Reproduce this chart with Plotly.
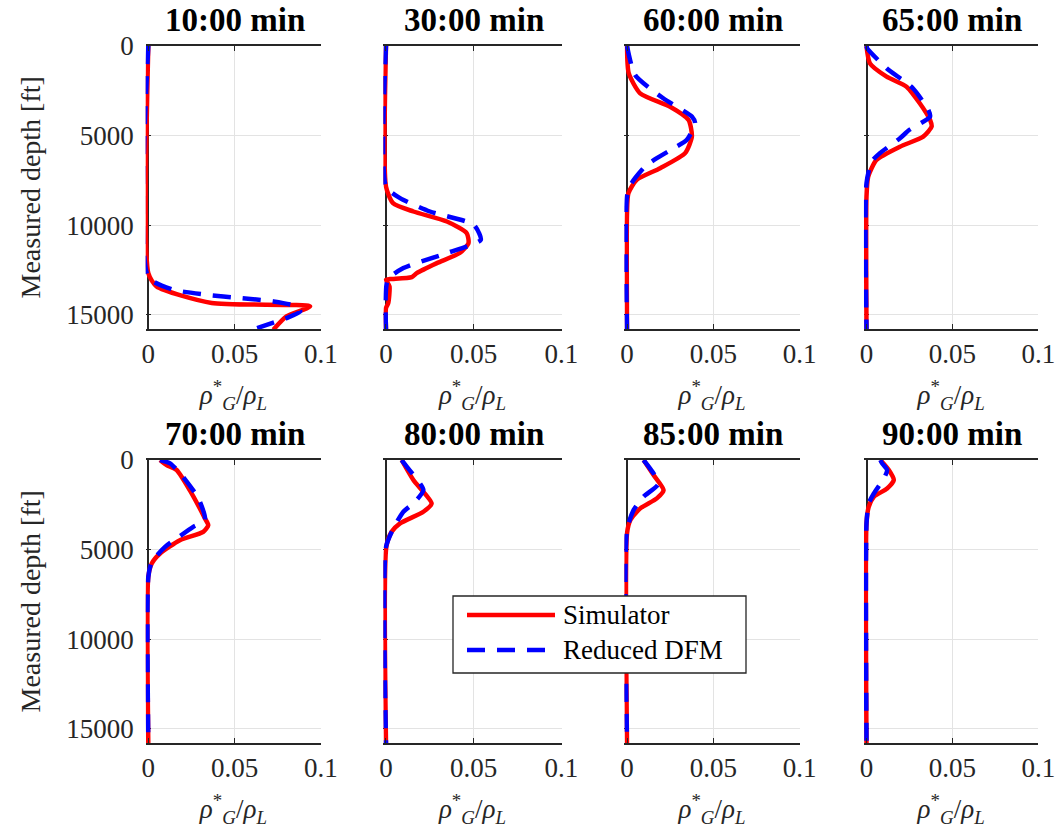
import plotly.graph_objects as go

titles = ["10:00 min", "30:00 min", "60:00 min", "65:00 min",
          "70:00 min", "80:00 min", "85:00 min", "90:00 min"]
series_names = ["Simulator", "Reduced DFM"]
y_title = "Measured depth [ft]"
x_title = "<i>ρ</i><sup>*</sup><sub><i>G</i></sub>/<i>ρ</i><sub><i>L</i></sub>"

# Simulator (red) profiles: value, depth
sim_x = [
    [0, 0, 0.0048, 0.0367, 0.0937, 0.080, 0.0724],
    [0, 0, 0.004, 0.0156, 0.0347, 0.046, 0.047, 0.042, 0.029, 0.0175, 0.0147, 0.0023, 0, 0.002, 0.0013, 0, 0],
    [0, 0.001, 0.0076, 0.025, 0.0357, 0.0376, 0.0337, 0.0192, 0.0056, 0.0008, 0, 0],
    [0, 0.002, 0.0117, 0.0233, 0.031, 0.037, 0.0379, 0.033, 0.0195, 0.0058, 0.001, 0, 0],
    [0.0068, 0.0106, 0.0164, 0.024, 0.0328, 0.0347, 0.0318, 0.0183, 0.0068, 0.002, 0, 0],
    [0.0089, 0.0156, 0.026, 0.0213, 0.008, 0.0032, 0.0002, 0],
    [0.0096, 0.0154, 0.0212, 0.0173, 0.0077, 0.0019, 0, 0],
    [0.0081, 0.013, 0.0159, 0.012, 0.0043, 0.0013, 0, 0],
]
sim_d = [
    [0, 12680, 13420, 14350, 14540, 15100, 15840],
    [0, 7850, 8770, 9240, 9800, 10450, 11000, 11560, 12120, 12680, 12900, 13010, 13050, 13420, 14350, 14630, 15840],
    [0, 1520, 2640, 3390, 4130, 5060, 5980, 6820, 7470, 8220, 9330, 15840],
    [0, 970, 1710, 2270, 3200, 4130, 4500, 5060, 5620, 6360, 7290, 8400, 15840],
    [0, 280, 560, 1680, 3260, 3640, 4010, 4480, 5220, 5780, 6530, 15840],
    [0, 1120, 2420, 2890, 3540, 4010, 4850, 15840],
    [0, 840, 1680, 2140, 2700, 3360, 4100, 15840],
    [0, 560, 1120, 1590, 2050, 2610, 3540, 15840],
]

# Reduced DFM (blue) profiles
dfm_x = [
    [0, 0, 0.0147, 0.034, 0.053, 0.0725, 0.086, 0.088, 0.080, 0.063],
    [0, 0, 0.008, 0.025, 0.050, 0.054, 0.0347, 0.0099, 0.001, 0],
    [0, 0.0047, 0.021, 0.0376, 0.0395, 0.0347, 0.027, 0.0173, 0.0105, 0.0027, 0, 0],
    [0, 0.0004, 0.0117, 0.027, 0.036, 0.037, 0.025, 0.0195, 0.0078, 0.003, 0, 0],
    [0.0068, 0.0126, 0.0193, 0.029, 0.0328, 0.026, 0.0164, 0.0097, 0.002, 0, 0],
    [0.0089, 0.0118, 0.0213, 0.0156, 0.0099, 0.0042, 0, 0],
    [0.0096, 0.0183, 0.0096, 0.0038, 0, 0],
    [0.0081, 0.0091, 0.012, 0.0101, 0.0043, 0.0013, 0, 0],
]
dfm_d = [
    [0, 12900, 13610, 13890, 14070, 14260, 14540, 14820, 15190, 15750],
    [0, 7850, 8490, 9240, 9980, 10820, 11560, 12400, 13050, 15840],
    [0, 1620, 2920, 3940, 4310, 5240, 5710, 6260, 6730, 7660, 8400, 15840],
    [0, 130, 1240, 2360, 3570, 3940, 4680, 5150, 5980, 6450, 7660, 15840],
    [0, 190, 840, 2140, 3360, 3730, 4380, 4850, 5690, 6530, 15840],
    [0, 370, 1680, 2420, 2890, 3820, 4850, 15840],
    [0, 1310, 2050, 2800, 3900, 15840],
    [0, 190, 560, 1030, 1870, 2420, 3540, 15840],
]

x_ticks = [0, 0.05, 0.1]
x_ticklabels = ["0", "0.05", "0.1"]
y_ticks = [0, 5000, 10000, 15000]
y_ticklabels = ["0", "5000", "10000", "15000"]

W, H = 1060, 831
col_px = [(148.3, 321.0), (386.0, 561.5), (627.0, 799.5), (866.5, 1038.3)]
row_px = [(46, 329), (460, 743)]
X_MAX = 0.1
X_PAD = 0.0015   # small room left of x=0 so the thick zero segments are not half clipped

FONT = "Liberation Serif"
AX = "#262626"
GRID = "#e3e3e3"
RED = "#ff0000"
BLUE = "#0000ff"
LW = 4.5
DASH = "18px,12px"

fig = go.Figure()
layout = {}
annotations = []
shapes = []
for i in range(8):
    r, c = divmod(i, 4)
    n = i + 1
    xa = "xaxis" if n == 1 else f"xaxis{n}"
    ya = "yaxis" if n == 1 else f"yaxis{n}"
    xr = "x" if n == 1 else f"x{n}"
    yr = "y" if n == 1 else f"y{n}"
    x0, x1 = col_px[c]
    y0, y1 = row_px[r]
    pad_px = X_PAD * (x1 - x0) / X_MAX
    layout[xa] = dict(domain=[(x0 - pad_px) / W, x1 / W], anchor=yr, range=[-X_PAD, X_MAX],
                      tickvals=x_ticks, ticktext=x_ticklabels, automargin=False,
                      showgrid=True, gridcolor=GRID, gridwidth=1,
                      zeroline=True, zerolinecolor=AX, zerolinewidth=1.5,
                      showline=True, linecolor=AX, linewidth=1.5,
                      mirror="ticks", ticks="inside", ticklen=5, tickcolor=AX,
                      ticklabelstandoff=0,
                      tickfont=dict(family=FONT, size=27, color=AX),
                      title=dict(text=x_title,
                                 font=dict(family=FONT, size=27, color=AX), standoff=17))
    layout[ya] = dict(domain=[1 - y1 / H, 1 - y0 / H], anchor=xr, range=[15800, 0],
                      tickvals=y_ticks, ticktext=y_ticklabels, automargin=False,
                      showticklabels=(c == 0), layer="below traces",
                      showgrid=True, gridcolor=GRID, gridwidth=1,
                      zeroline=False, showline=False,
                      ticks="inside", ticklen=5, tickcolor=AX,
                      ticklabelstandoff=int(9 + pad_px),
                      tickfont=dict(family=FONT, size=27, color=AX))
    # right-hand frame edge with inside ticks
    layout[f"yaxis{n + 8}"] = dict(overlaying=yr, anchor=xr, side="right", range=[15800, 0],
                                   tickvals=y_ticks, showticklabels=False, automargin=False,
                                   showgrid=False, zeroline=False,
                                   showline=True, linecolor=AX, linewidth=1.5,
                                   ticks="inside", ticklen=5, tickcolor=AX)
    fig.add_trace(go.Scatter(x=sim_x[i], y=sim_d[i], mode="lines", xaxis=xr, yaxis=yr,
                             line=dict(color=RED, width=LW, shape="spline", smoothing=0.6),
                             name=series_names[0], showlegend=False))
    fig.add_trace(go.Scatter(x=dfm_x[i], y=dfm_d[i], mode="lines", xaxis=xr, yaxis=yr,
                             line=dict(color=BLUE, width=LW, dash=DASH,
                                       shape="spline", smoothing=0.6),
                             name=series_names[1], showlegend=False))
    annotations.append(dict(text=f"<b>{titles[i]}</b>", xref="paper", yref="paper",
                            x=(x0 + x1) / 2 / W, y=1 - (y0 - 26) / H,
                            xanchor="center", yanchor="middle", showarrow=False,
                            font=dict(family=FONT, size=33, color="#000000")))
    if c == 0:
        annotations.append(dict(text=y_title, xref="paper", yref="paper",
                                x=30 / W, y=1 - (y0 + y1) / 2 / H, textangle=-90,
                                xanchor="center", yanchor="middle", showarrow=False,
                                font=dict(family=FONT, size=28, color=AX)))

# Legend box (drawn as decoration so the line samples match the reference length)
LB = (453, 596, 746, 673)
shapes.append(dict(type="rect", xref="paper", yref="paper",
                   x0=LB[0] / W, x1=LB[2] / W, y0=1 - LB[3] / H, y1=1 - LB[1] / H,
                   line=dict(color=AX, width=1.3), fillcolor="white", layer="above"))
for k, (col, dash, yy) in enumerate([(RED, "solid", 615), (BLUE, DASH, 650)]):
    shapes.append(dict(type="line", xref="paper", yref="paper",
                       x0=467 / W, x1=555 / W, y0=1 - yy / H, y1=1 - yy / H,
                       line=dict(color=col, width=LW, dash=dash), layer="above"))
    annotations.append(dict(text=series_names[k], xref="paper", yref="paper",
                            x=561 / W, y=1 - yy / H, xanchor="left", yanchor="middle",
                            showarrow=False,
                            font=dict(family=FONT, size=27, color="#000000")))

fig.update_layout(**layout)
fig.update_layout(
    width=W, height=H, margin=dict(l=0, r=0, t=0, b=0),
    paper_bgcolor="white", plot_bgcolor="white",
    annotations=annotations, shapes=shapes, showlegend=False,
)
fig.write_html("out.html")
